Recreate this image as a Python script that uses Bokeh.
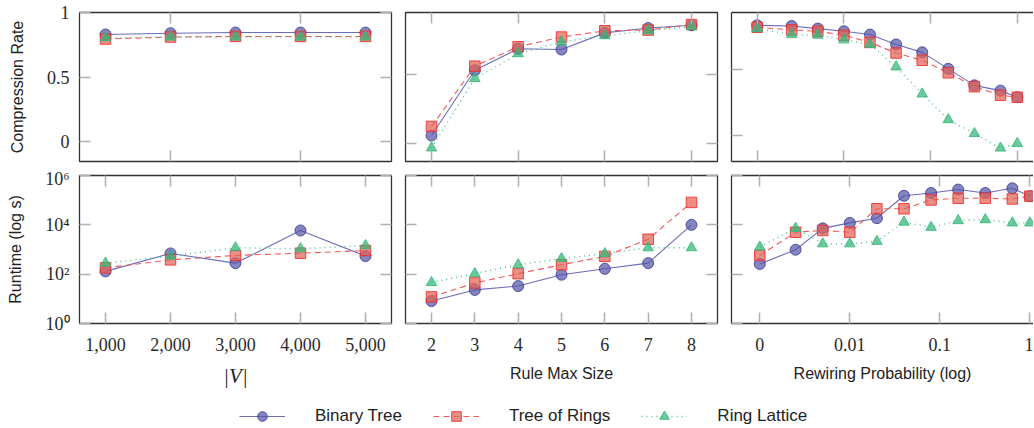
from bokeh.plotting import figure
from bokeh.models import (Range1d, LinearAxis, LogAxis, FixedTicker, Legend, LegendItem,
                          CustomJSTickFormatter, NumeralTickFormatter)
from bokeh.layouts import row, column
from bokeh.embed import file_html
from bokeh.resources import INLINE

# ---------------- data ----------------
series_names = ["Binary Tree", "Tree of Rings", "Ring Lattice"]

num_vertices = [1000, 2000, 3000, 4000, 5000]
rule_max_size = [2, 3, 4, 5, 6, 7, 8]
rewiring_prob = [0, 0.0025, 0.005, 0.01, 0.02, 0.04, 0.08, 0.16, 0.32, 0.64, 1]

cr_vertices_binary = [0.83, 0.84, 0.845, 0.845, 0.845]
cr_vertices_rings = [0.795, 0.81, 0.815, 0.815, 0.815]
cr_vertices_lattice = [0.805, 0.81, 0.81, 0.81, 0.81]

cr_rule_binary = [0.06, 0.53, 0.685, 0.68, 0.80, 0.835, 0.855]
cr_rule_rings = [0.125, 0.56, 0.70, 0.77, 0.815, 0.82, 0.86]
cr_rule_lattice = [-0.03, 0.47, 0.65, 0.735, 0.78, 0.815, 0.845]

cr_rewire_binary = [0.835, 0.83, 0.81, 0.79, 0.765, 0.69, 0.63, 0.505, 0.38, 0.34, 0.29]
cr_rewire_rings = [0.82, 0.80, 0.79, 0.76, 0.705, 0.625, 0.57, 0.475, 0.37, 0.305, 0.29]
cr_rewire_lattice = [0.81, 0.765, 0.76, 0.725, 0.69, 0.52, 0.315, 0.12, 0.015, -0.095, -0.06]

rt_vertices_binary = [130, 690, 280, 5900, 540]
rt_vertices_rings = [180, 380, 575, 710, 910]
rt_vertices_lattice = [280, 540, 1180, 1070, 1450]

rt_rule_binary = [8.1, 23, 33, 95, 165, 280, 10000]
rt_rule_rings = [12, 44, 105, 240, 525, 2600, 81000]
rt_rule_lattice = [46, 105, 240, 430, 680, 1180, 1180]

rt_rewire_binary = [260, 980, 7200, 12000, 18600, 151000, 195000, 269000, 195000, 302000, 145000]
rt_rewire_rings = [575, 5000, 5900, 5000, 44700, 44700, 102000, 120000, 120000, 112000, 145000]
rt_rewire_lattice = [1260, 7200, 1700, 1700, 2140, 12900, 7940, 14800, 16200, 12000, 12000]

y_ticks_rate = [0, 0.5, 1]
y_ticks_runtime = [1, 1e2, 1e4, 1e6]
x_ticks_vertices = [1000, 2000, 3000, 4000, 5000]
x_ticks_vertices_top = [2000, 4000]
x_ticks_rule = [2, 3, 4, 5, 6, 7, 8]
x_ticks_rule_top = [2, 4, 6, 8]
x_ticks_rewire = [0.001, 0.01, 0.1, 1]

# ---------------- styles ----------------
STYLE = {
    "Binary Tree": dict(marker="circle", size=11, fill="#5656a6", edge="#3c3c96",
                        line="#6c6cba", dash="solid", lw=1.1),
    "Tree of Rings": dict(marker="square", size=10.5, fill="#e06458", edge="#f02a2a",
                          line="#f05a5a", dash="6 4", lw=1.1),
    "Ring Lattice": dict(marker="triangle", size=10.5, fill="#35b679", edge="#35b679",
                         line="#4cc090", dash="1 4", lw=1.4),
}
FRAME = "#333333"
TICK = "#b0b0b0"
SERIF = "Liberation Serif"
SANS = "Liberation Sans"

# rewiring probability 0 is shown at 0.001 on the log axis (labelled "0")
rewire_plot_x = [p if p > 0 else 0.001 for p in rewiring_prob]


def hidden():
    return CustomJSTickFormatter(code="return ''")


def style_axis(ax, ticks, fmt=None, line=True, tick_len=11):
    ax.ticker = FixedTicker(ticks=ticks)
    ax.major_tick_in = tick_len
    ax.major_tick_out = 0
    ax.major_tick_line_color = TICK
    ax.major_tick_line_width = 1.5
    ax.minor_tick_line_color = None
    ax.axis_line_color = FRAME if line else None
    ax.axis_line_width = 1.3
    if fmt is None:
        ax.formatter = hidden()
        ax.major_label_text_font_size = "1px"
        ax.major_label_standoff = 0
    else:
        ax.formatter = fmt
        ax.major_label_text_font = SERIF
        ax.major_label_text_font_size = "18px"
        ax.major_label_text_color = "#2a2a2a"


def panel(xs, ys_list, xr, yr, xlog, ylog, xticks, yticks, xmirror, xfmt, yfmt,
          bl, br, bt, bb, fw, fh, closed, xlabel=None, ylabel=None, xlabel_serif=False):
    p = figure(frame_width=fw, frame_height=fh,
               min_border_left=bl, min_border_right=br, min_border_top=bt, min_border_bottom=bb,
               x_range=Range1d(*xr), y_range=Range1d(*yr),
               x_axis_type="log" if xlog else "linear",
               y_axis_type="log" if ylog else "linear",
               toolbar_location=None, output_backend="svg")
    p.grid.visible = False
    p.background_fill_color = "white"
    p.border_fill_color = "white"
    if closed:
        p.outline_line_color = FRAME
        p.outline_line_width = 1.3
        p.outline_line_alpha = 1.0
    else:
        p.outline_line_color = None
    bottom_ax = p.below[0]
    left_ax = p.left[0]
    style_axis(bottom_ax, xticks, xfmt, line=not closed)
    style_axis(left_ax, yticks, yfmt, line=not closed)
    XA = LogAxis if xlog else LinearAxis
    YA = LogAxis if ylog else LinearAxis
    top = XA()
    style_axis(top, xmirror, None, line=not closed)
    p.add_layout(top, "above")
    if closed:
        right = YA()
        style_axis(right, yticks, None, line=False)
        p.add_layout(right, "right")
    if xlabel:
        ax = bottom_ax
        ax.axis_label = xlabel
        if xlabel_serif:
            ax.axis_label_text_font = SERIF
            ax.axis_label_text_font_style = "italic"
            ax.axis_label_text_font_size = "21px"
            ax.axis_label_standoff = 10
        else:
            ax.axis_label_text_font = SANS
            ax.axis_label_text_font_style = "normal"
            ax.axis_label_text_font_size = "16px"
            ax.axis_label_standoff = 11
        ax.axis_label_text_color = "#222222"
        ax.major_label_standoff = 14
    if ylabel:
        ay = left_ax
        ay.axis_label = ylabel
        ay.axis_label_text_font = SANS
        ay.axis_label_text_font_style = "normal"
        ay.axis_label_text_font_size = "16px"
        ay.axis_label_text_color = "#222222"
        ay.axis_label_standoff = 18
        ay.major_label_standoff = 10
    for name, ys in zip(series_names, ys_list):
        s = STYLE[name]
        p.line(xs, ys, line_color=s["line"], line_width=s["lw"], line_dash=s["dash"])
        p.scatter(xs, ys, marker=s["marker"], size=s["size"], fill_color=s["fill"],
                  fill_alpha=0.72, line_color=s["edge"], line_alpha=0.85, line_width=1)
    return p


rate_fmt = CustomJSTickFormatter(code="return tick.toString()")
pow_fmt = CustomJSTickFormatter(code="""
const e = Math.round(Math.log10(tick));
const sup = {0: '\u2070', 2: '\u00b2', 4: '\u2074', 6: '\u2076'};
return '10' + sup[e];
""")
rewire_fmt = CustomJSTickFormatter(code="return tick < 0.005 ? '0' : tick.toString()")

FW = 312
FW3 = 302
TOP_H = 149
BOT_H = 148
LEFT = 79
BOT_B = 75

# column 3 ranges (log scale, "0" drawn at 1e-3)
top3_range = (10 ** (-3 - 25.7 / 86.7), 10 ** (-3 + (731 + FW3 - 756.7) / 86.7))
bot3_range = (10 ** (-3 - 28.3 / 90.0), 10 ** (-3 + (731 + FW3 - 759.3) / 90.0))

p11 = panel(num_vertices, [cr_vertices_binary, cr_vertices_rings, cr_vertices_lattice],
            (600, 5400), (-0.152, 1.0), False, False, x_ticks_vertices_top, y_ticks_rate,
            x_ticks_vertices_top, None, rate_fmt, LEFT, 7, 12, 7, FW, TOP_H, True,
            ylabel="Compression Rate")
p12 = panel(rule_max_size, [cr_rule_binary, cr_rule_rings, cr_rule_lattice],
            (1.4, 8.6), (-0.128, 0.947), False, False, x_ticks_rule_top, y_ticks_rate,
            x_ticks_rule_top, None, None, 7, 7, 12, 7, FW, TOP_H, True)
p13 = panel(rewire_plot_x, [cr_rewire_binary, cr_rewire_rings, cr_rewire_lattice],
            top3_range, (-0.197, 0.932), True, False, x_ticks_rewire, y_ticks_rate,
            x_ticks_rewire, None, None, 7, 0, 12, 7, FW3, TOP_H, False)

p21 = panel(num_vertices, [rt_vertices_binary, rt_vertices_rings, rt_vertices_lattice],
            (600, 5400), (1, 1e6), False, True, x_ticks_vertices, y_ticks_runtime,
            x_ticks_vertices, NumeralTickFormatter(format="0,0"), pow_fmt, LEFT, 7, 7, BOT_B, FW, BOT_H, True,
            xlabel="|V|", ylabel="Runtime (log s)", xlabel_serif=True)
p22 = panel(rule_max_size, [rt_rule_binary, rt_rule_rings, rt_rule_lattice],
            (1.4, 8.6), (1, 1e6), False, True, x_ticks_rule, y_ticks_runtime,
            x_ticks_rule, CustomJSTickFormatter(code="return tick.toString()"), None,
            7, 7, 7, BOT_B, FW, BOT_H, True, xlabel="Rule Max Size")
p23 = panel(rewire_plot_x, [rt_rewire_binary, rt_rewire_rings, rt_rewire_lattice],
            bot3_range, (1, 1e6), True, True, x_ticks_rewire, y_ticks_runtime,
            x_ticks_rewire, rewire_fmt, None, 7, 0, 7, BOT_B, FW3, BOT_H, False,
            xlabel="Rewiring Probability (log)")

# ---------------- legend ----------------
total_w = (LEFT + FW + 7) + (7 + FW + 7) + (7 + FW3)
leg = figure(width=total_w, height=30, x_range=(0, 1), y_range=(0, 1),
             toolbar_location=None, output_backend="svg", min_border=0)
leg.axis.visible = False
leg.grid.visible = False
leg.outline_line_color = None
leg_series = [cr_vertices_binary, cr_vertices_rings, cr_vertices_lattice]
items = []
for name, ys in zip(series_names, leg_series):
    s = STYLE[name]
    # renderers only serve as legend samples (their data lie outside this strip's range)
    lr = leg.line(num_vertices, ys, line_color=s["line"], line_width=s["lw"], line_dash=s["dash"])
    sr = leg.scatter(num_vertices, ys, marker=s["marker"], fill_color=s["fill"], fill_alpha=0.72,
                     line_color=s["edge"], line_alpha=0.85)
    items.append(LegendItem(label=name, renderers=[lr, sr]))
legend = Legend(items=items, location=(239, 0), orientation="horizontal",
                glyph_width=46, glyph_height=24, label_standoff=30, spacing=31,
                padding=0, margin=0, border_line_color=None, background_fill_alpha=0,
                label_text_font=SANS, label_text_font_size="17px",
                label_text_color="#222222", label_text_baseline="middle")
leg.add_layout(legend)

layout = column(row(p11, p12, p13, spacing=0), row(p21, p22, p23, spacing=0), leg, spacing=0)

open("out.html", "w").write(file_html(layout, INLINE))
